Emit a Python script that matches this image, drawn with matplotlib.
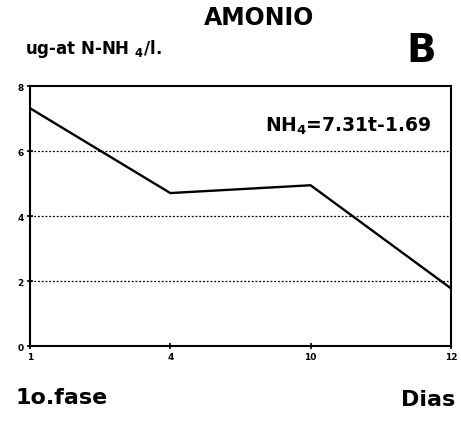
import matplotlib.pyplot as plt

# days sampled (plotted at equal spacing) and ammonium values
dias = ['1', '4', '10', '12']
nh4 = [7.32, 4.71, 4.95, 1.78]
yticks = [0, 2, 4, 6, 8]

plt.rcParams['font.family'] = ['DejaVu Sans']
plt.rcParams['font.weight'] = 'bold'

fig = plt.figure(figsize=(4.61, 4.27), dpi=100)
ax = fig.add_axes([0.065, 0.187, 0.913, 0.609])

x = list(range(len(dias)))
ax.plot(x, nh4, color='black', lw=1.7)

ax.set_xlim(0, len(dias) - 1)
ax.set_ylim(0, 8)
ax.set_xticks(x)
ax.set_xticklabels(dias, fontsize=6.5, fontweight='bold')
ax.set_yticks(yticks)
ax.set_yticklabels([str(v) for v in yticks], fontsize=6.5, fontweight='bold')
ax.tick_params(direction='inout', length=5, width=1.2, pad=2)

# dotted grid lines at inner ticks
for v in yticks[1:-1]:
    ax.axhline(v, color='black', lw=0.9, ls=(0, (1.5, 1.5)))

for s in ax.spines.values():
    s.set_linewidth(1.5)

ax.text(0.955, 0.85, 'NH$_4$=7.31t-1.69', transform=ax.transAxes,
        ha='right', va='center', fontsize=13.5, fontweight='bold')

fig.text(0.562, 0.958, 'AMONIO', ha='center', va='center', fontsize=17, fontweight='bold')
fig.text(0.055, 0.885, 'ug-at N-NH $_4$/l.', ha='left', va='center', fontsize=12, fontweight='bold')
fig.text(0.945, 0.88, 'B', ha='right', va='center', fontsize=28, fontweight='bold')
fig.text(0.033, 0.068, '1o.fase', ha='left', va='center', fontsize=16, fontweight='bold')
fig.text(0.987, 0.064, 'Dias', ha='right', va='center', fontsize=16, fontweight='bold')

fig.savefig('out.png', dpi=100)
